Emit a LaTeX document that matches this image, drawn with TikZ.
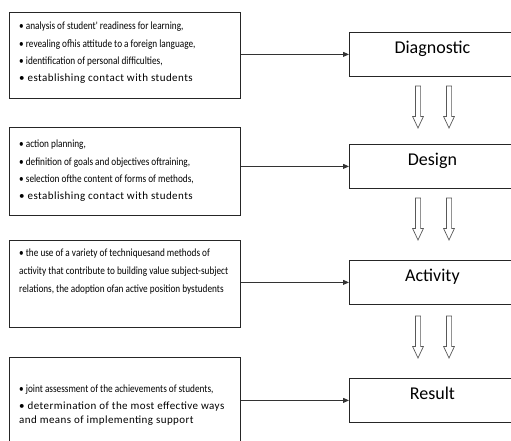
\documentclass[tikz,border=0pt]{standalone}
\usepackage{fontspec}
\setmainfont{Carlito}
\newfontfamily\narrowfont[FakeStretch=0.84]{Carlito}
\newfontfamily\widefont[LetterSpace=4]{Carlito}
\usetikzlibrary{arrows.meta,calc}

\begin{document}
\begin{tikzpicture}[x=1pt,y=-1pt,
  frame/.style={draw=black!85, line width=0.8pt, anchor=north west, inner sep=0pt,
    minimum width=231pt},
  stage/.style={draw=black!85, line width=0.8pt, anchor=north west, inner sep=0pt,
    minimum width=166pt, text height=21pt, text depth=23pt, font=\fontsize{18}{20}\selectfont},
  notes/.style={anchor=north west, inner sep=0pt, align=left,
    font=\narrowfont\fontsize{11}{17.2}\selectfont},
  conn/.style={draw=black!80, line width=0.8pt, -{Triangle[length=6pt,width=5pt]}},
  hollowdown/.pic={
    \draw[draw=black!65, line width=0.7pt, fill=white]
      (-2.6,0) -- (2.6,0) -- (2.6,30.5) -- (5.4,30.5) -- (0,42) -- (-5.4,30.5) -- (-2.6,30.5) -- cycle;
  }
]
\clip (0,0) rectangle (511,441);
\useasboundingbox (0,0) rectangle (511,441);

% stages of the process
\node[stage] (diag) at (349,32)  {Diagnostic};
\node[stage] (desg) at (349,144) {Design};
\node[stage] (actv) at (349,260) {Activity};
\node[stage] (rslt) at (349,378) {Result};

% content of each stage
\node[frame, minimum height=86pt] (b1) at (9,12)  {};
\node[frame, minimum height=88pt] (b2) at (9,127) {};
\node[frame, minimum height=87pt] (b3) at (9,240) {};
\node[frame, minimum height=95pt] (b4) at (9,357) {};

\node[notes] (t1) at ($(b1.north west)+(10,10)$) {%
  • analysis of student' readiness for learning,\\
  • revealing ofhis attitude to a foreign language,\\
  • identification of personal difficulties,\\
  {\widefont • establishing contact with students}};
\node[notes] (t2) at ($(b2.north west)+(10,13)$) {%
  • action planning,\\
  • definition of goals and objectives oftraining,\\
  • selection ofthe content of forms of methods,\\
  {\widefont • establishing contact with students}};
\node[notes, font=\narrowfont\fontsize{11}{17.8}\selectfont] (t3) at ($(b3.north west)+(10,9)$) {%
  • the use of a variety of techniquesand methods of\\
  activity that contribute to building value subject-subject\\
  relations, the adoption ofan active position bystudents};
\node[notes] (t4) at ($(b4.north west)+(10,28)$) {%
  • joint assessment of the achievements of students,\\[-1pt]
  {\widefont • determination of the most effective ways}\\[-3pt]
  {\widefont and means of implementing support}};

% links from contents to stages
\draw[conn] (b1.east |- diag.west) -- (diag.west);
\draw[conn] (b2.east |- desg.west) -- (desg.west);
\draw[conn] (b3.east |- actv.west) -- (actv.west);
\draw[conn] (b4.east |- rslt.west) -- (rslt.west);

% transitions between stages
\pic at (418,86)  {hollowdown};
\pic at (449,86)  {hollowdown};
\pic at (418,198) {hollowdown};
\pic at (449,198) {hollowdown};
\pic at (418,316) {hollowdown};
\pic at (449,316) {hollowdown};
\end{tikzpicture}
\end{document}
